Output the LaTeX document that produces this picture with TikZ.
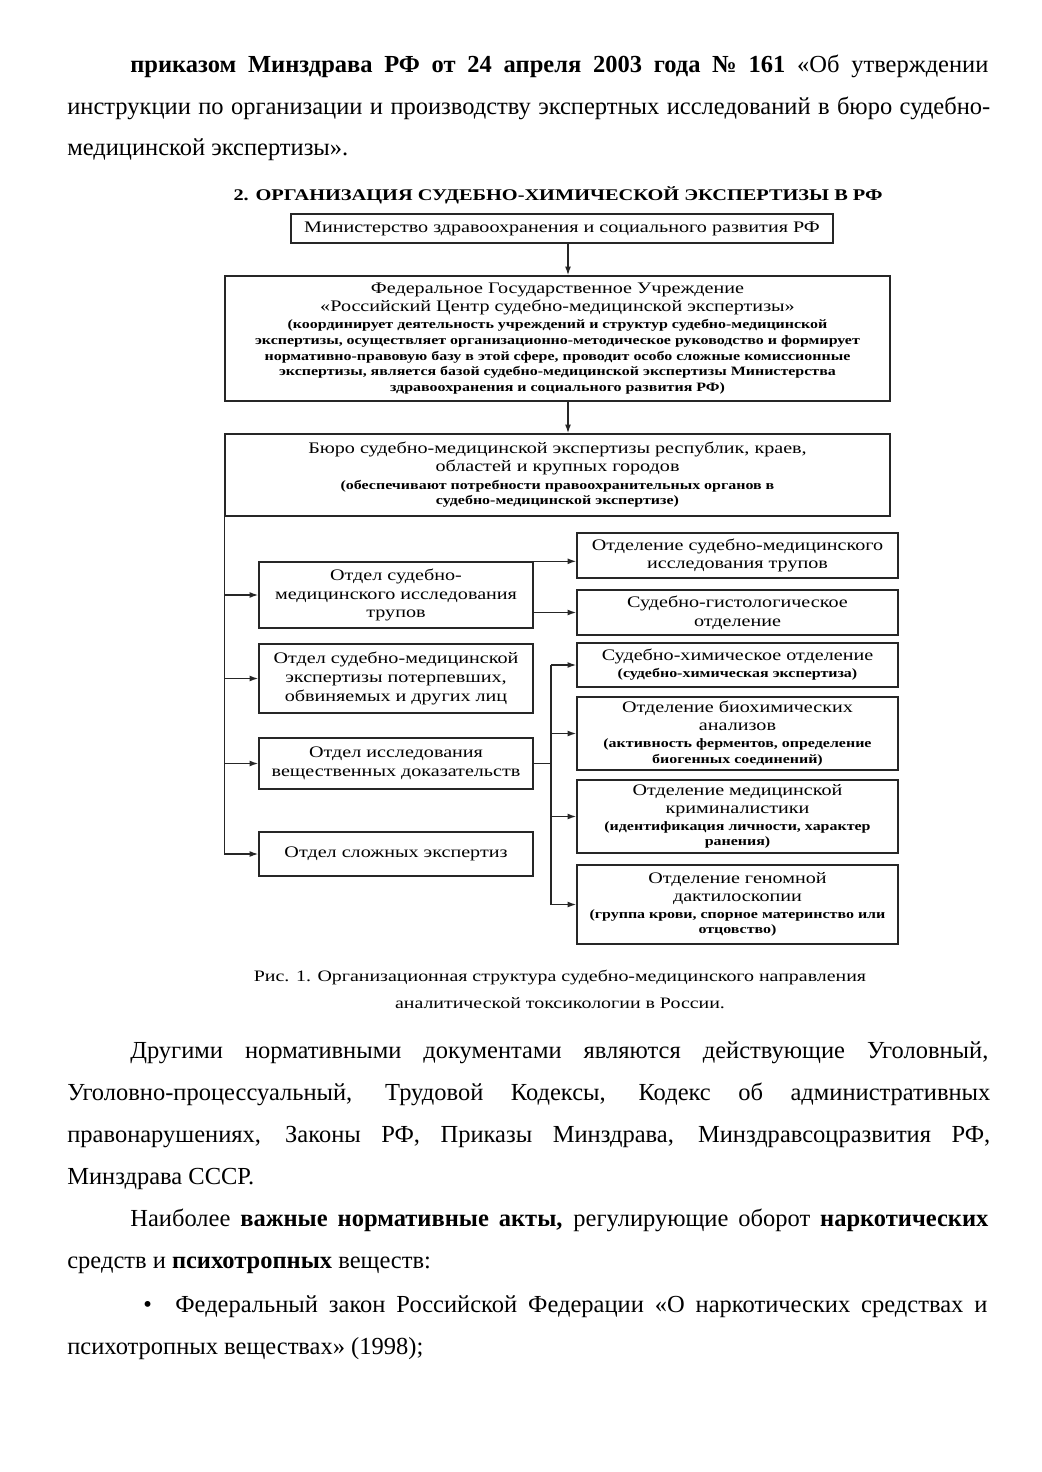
\documentclass[tikz,border=0pt]{standalone}
\usepackage{fontspec}
\setmainfont{Liberation Serif}
\newfontfamily\dgm[FakeStretch=1.25]{Liberation Serif}
\usetikzlibrary{arrows.meta,calc}
\begin{document}
\begin{tikzpicture}[x=0.5714pt,y=-0.5714pt,
  body/.style={inner sep=0pt,font=\fontsize{14}{16}\selectfont},
  bx/.style args={#1/#2}{draw=black!85,line width=0.8pt,inner sep=0pt,
    minimum width=#1*0.5714pt,minimum height=#2*0.5714pt,align=center,
    font=\dgm\fontsize{9.2}{10.8}\selectfont},
  mx/.style={font=\dgm\fontsize{9.2}{8.9}\selectfont},
  arr/.style={draw=black!85,line width=0.8pt,-{Latex[length=5pt,width=3.4pt]}},
  ln/.style={draw=black!85,line width=0.8pt}]
\newcommand\smt{\dgm\bfseries\fontsize{7.3}{8.9}\selectfont}
\fill[white] (0,0) rectangle (1041,1472);
\useasboundingbox (0,0) rectangle (1041,1472);

% ---- top paragraph
\node[body,anchor=base west] (p1) at (130,73) {\makebox[490.3pt][s]{\textbf{приказом Минздрава РФ от 24 апреля 2003 года № 161} «Об утверждении}};
\node[body,anchor=base west] (p2) at (67,115) {\makebox[527.4pt][s]{инструкции по организации и производству экспертных исследований в бюро судебно-}};
\node[body,anchor=base west] (p3) at (67,156) {медицинской экспертизы».};

% ---- diagram
\node[inner sep=0pt,font=\dgm\bfseries\fontsize{9.3}{10}\selectfont] (title) at (558,195) {2. ОРГАНИЗАЦИЯ СУДЕБНО-ХИМИЧЕСКОЙ ЭКСПЕРТИЗЫ В РФ};

\node[bx=542/29] (b1) at (562,228.5) {Министерство здравоохранения и социального развития РФ};
\node[bx=665/125,mx] (b2) at (557.5,338.5) {Федеральное Государственное Учреждение\\[1.2pt]
«Российский Центр судебно-медицинской экспертизы»\\[1.2pt]
\smt (координирует деятельность учреждений и структур судебно-медицинской\\
\smt экспертизы, осуществляет организационно-методическое руководство и формирует\\
\smt нормативно-правовую базу в этой сфере, проводит особо сложные комиссионные\\
\smt экспертизы, является базой судебно-медицинской экспертизы Министерства\\
\smt здравоохранения и социального развития РФ)};
\node[bx=665/82,mx] (b3) at (557.5,475) {Бюро судебно-медицинской экспертизы республик, краев,\\[1.2pt]
областей и крупных городов\\[1.2pt]
\smt (обеспечивают потребности правоохранительных органов в\\
\smt судебно-медицинской экспертизе)};

\node[bx=274/66] (l1) at (396,595) {Отдел судебно-\\медицинского исследования\\трупов};
\node[bx=274/69] (l2) at (396,678.5) {Отдел судебно-медицинской\\экспертизы потерпевших,\\обвиняемых и других лиц};
\node[bx=274/51] (l3) at (396,763.5) {Отдел исследования\\вещественных доказательств};
\node[bx=274/44] (l4) at (396,854) {Отдел сложных экспертиз};

\node[bx=321/45] (r1) at (737.5,555.5) {Отделение судебно-медицинского\\исследования трупов};
\node[bx=321/45] (r2) at (737.5,612.5) {Судебно-гистологическое\\отделение};
\node[bx=321/44,mx] (r3) at (737.5,665) {Судебно-химическое отделение\\[0.9pt]\smt (судебно-химическая экспертиза)};
\node[bx=321/73,mx] (r4) at (737.5,733.5) {Отделение биохимических\\[1.2pt]анализов\\[0.9pt]\smt (активность ферментов, определение\\\smt биогенных соединений)};
\node[bx=321/73,mx] (r5) at (737.5,816.5) {Отделение медицинской\\[1.2pt]криминалистики\\[0.9pt]\smt (идентификация личности, характер\\\smt ранения)};
\node[bx=321/79,mx] (r6) at (737.5,904.5) {Отделение геномной\\[1.2pt]дактилоскопии\\[0.9pt]\smt (группа крови, спорное материнство или\\\smt отцовство)};

\coordinate (ax) at (568,0);
\coordinate (t2) at (551,0);
\draw[arr] (b1.south -| ax) -- (b2.north -| ax);
\draw[arr] (b2.south -| ax) -- (b3.north -| ax);
\draw[ln] (b3.south west) -- (b3.south west |- l4.west);
\draw[arr] (l1.west -| b3.west) -- (l1.west);
\draw[arr] (l2.west -| b3.west) -- (l2.west);
\draw[arr] (l3.west -| b3.west) -- (l3.west);
\draw[arr] (l4.west -| b3.west) -- (l4.west);
\draw[arr] (l1.north east) -- (l1.north east -| r1.west);
\draw[arr] (l1.east |- r2.west) -- (r2.west);
\draw[ln] (l3.east) -- (l3.east -| t2);
\draw[ln] (t2 |- r3.west) -- (t2 |- r6.west);
\draw[arr] (t2 |- r3.west) -- (r3.west);
\draw[arr] (t2 |- r4.west) -- (r4.west);
\draw[arr] (t2 |- r5.west) -- (r5.west);
\draw[arr] (t2 |- r6.west) -- (r6.west);

\node[inner sep=0pt,font=\dgm\fontsize{9.1}{10}\selectfont] (cap1) at (560,978) {Рис. 1. Организационная структура судебно-медицинского направления};
\node[inner sep=0pt,font=\dgm\fontsize{9.1}{10}\selectfont] (cap2) at (560,1003) {аналитической токсикологии в России.};

% ---- lower text
\node[body,anchor=base west] (q1) at (130,1058) {\makebox[490.3pt][s]{Другими нормативными документами являются действующие Уголовный,}};
\node[body,anchor=base west] (q2) at (67,1100) {\makebox[527.4pt][s]{Уголовно-процессуальный, Трудовой Кодексы, Кодекс об административных}};
\node[body,anchor=base west] (q3) at (67,1142) {\makebox[527.4pt][s]{правонарушениях, Законы РФ, Приказы Минздрава, Минздравсоцразвития РФ,}};
\node[body,anchor=base west] (q4) at (67,1184) {Минздрава СССР.};
\node[body,anchor=base west] (q5) at (130,1226) {\makebox[490.3pt][s]{Наиболее \textbf{важные нормативные акты,} регулирующие оборот \textbf{наркотических}}};
\node[body,anchor=base west] (q6) at (67,1268) {средств и \textbf{психотропных} веществ:};
\node[body,anchor=base west] (bul) at (143,1312) {•};
\node[body,anchor=base west] (q7) at (175,1312) {\makebox[464pt][s]{Федеральный закон Российской Федерации «О наркотических средствах и}};
\node[body,anchor=base west] (q8) at (67,1354) {психотропных веществах» (1998);};
\end{tikzpicture}
\end{document}
